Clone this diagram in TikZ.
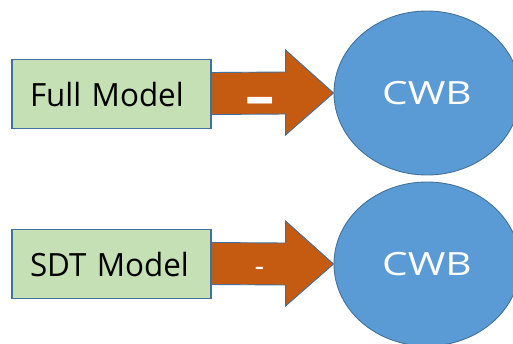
\documentclass[tikz,border=0pt]{standalone}
\usepackage{fontspec}
\setmainfont{Open Sans}
\usetikzlibrary{calc,shapes.geometric}
\definecolor{boxgreen}{HTML}{C5E0B4}
\definecolor{edgeblue}{HTML}{41719C}
\definecolor{arroworange}{HTML}{C55A11}
\definecolor{cwbblue}{HTML}{5B9BD5}
\tikzset{
  modelbox/.style={draw=edgeblue, line width=1.2pt, fill=boxgreen, minimum height=69pt,
    text width=163pt, inner xsep=18pt, inner ysep=0pt, align=left,
    font=\fontsize{32}{32}\selectfont, text=black},
  cwb/.style={ellipse, draw=edgeblue, line width=0.9pt, fill=cwbblue, minimum width=186pt, minimum height=164pt,
    font=\fontsize{32}{32}\selectfont, text=white, inner sep=0pt},
  blockarrow/.style={draw=edgeblue, line width=0.9pt, fill=arroworange, line join=miter},
  dashlbl/.style={text=white, inner sep=0pt, anchor=base}
}
\begin{document}
\begin{tikzpicture}[x=1pt,y=-1pt]
\useasboundingbox (0,0) rectangle (513,343);
% top row
\node[modelbox] (m1) at (111.5,94) {\scalebox{0.98}[1]{Full Model}};
\node[cwb] (c1) at (427,93) {\scalebox{1.27}[1]{CWB}};
\draw[blockarrow] ($(m1.east)+(0,-21.5)$) -- ($(c1.west)+(-48,-21)$) -- ($(c1.west)+(-48,-43)$)
  -- (c1.west) -- ($(c1.west)+(-48,42)$) -- ($(c1.west)+(-48,21)$) -- ($(m1.east)+(0,20.5)$) -- cycle;
\node[dashlbl, font=\fontsize{42}{42}\selectfont\bfseries] (d1) at (260.5,116) {\scalebox{1.4}[1.4]{–}};
% bottom row
\node[modelbox] (m2) at (111.5,264) {\scalebox{0.98}[1]{SDT Model}};
\node[cwb] (c2) at (427,264) {\scalebox{1.27}[1]{CWB}};
\draw[blockarrow] ($(m2.east)+(0,-21.5)$) -- ($(c2.west)+(-48,-21)$) -- ($(c2.west)+(-48,-43)$)
  -- (c2.west) -- ($(c2.west)+(-48,42)$) -- ($(c2.west)+(-48,21)$) -- ($(m2.east)+(0,20.5)$) -- cycle;
\node[dashlbl, font=\fontsize{30}{30}\selectfont] (d2) at (259.5,276) {-};
\end{tikzpicture}
\end{document}
